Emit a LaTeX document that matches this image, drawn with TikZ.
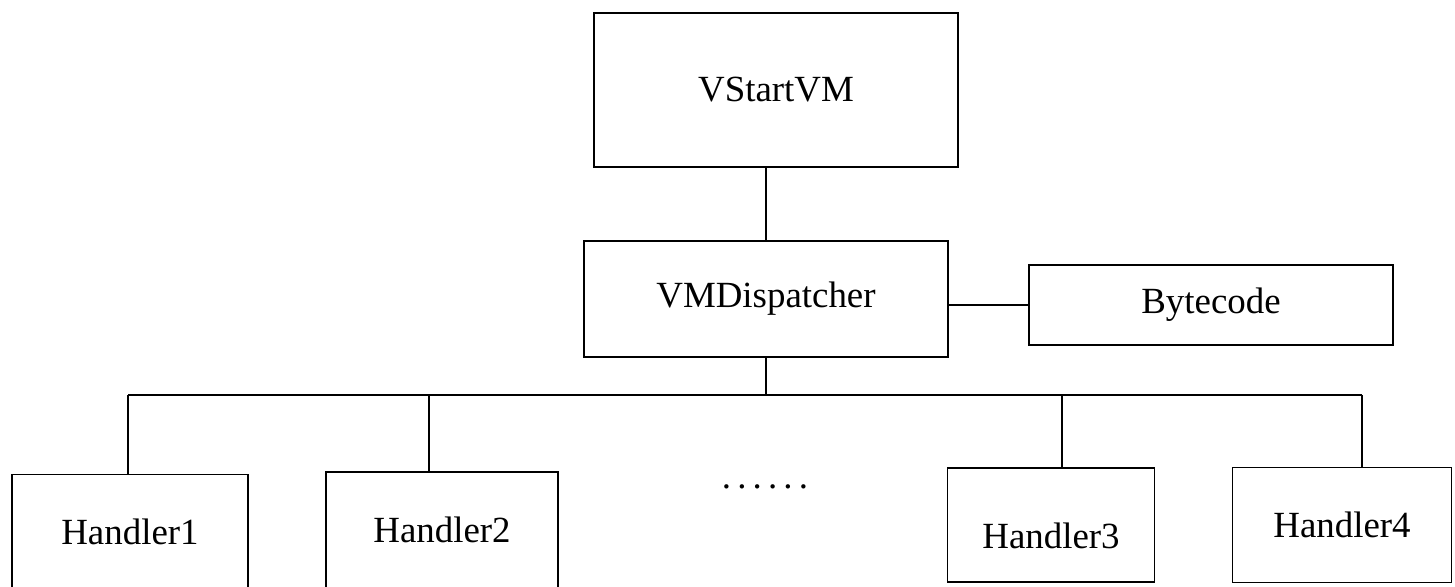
\documentclass[tikz,border=0pt]{standalone}
\usepackage{fontspec}
\setmainfont{Liberation Serif}

\begin{document}
\begin{tikzpicture}[x=0.02cm, y=-0.02cm, line width=1pt,
    blk/.style={draw, inner sep=0pt, font=\fontsize{21}{25}\selectfont}]
  \clip (0,0) rectangle (1455,587);

  % oben: Start und Dispatcher
  \node[blk, minimum width=7.28cm, minimum height=3.08cm] (vm) at (776,90) {VStartVM};
  \node[blk, minimum width=7.28cm, minimum height=2.32cm] (disp) at (766,299) {VMDispatcher};
  \node[blk, minimum width=7.28cm, minimum height=1.6cm] (code) at (1211,305) {Bytecode};

  \draw (disp.north) -- (disp.north |- vm.south);
  \draw (disp.east |- code.west) -- (code.west);

  % Handler
  \node[blk, minimum width=4.72cm, minimum height=2.3cm] (h1) at (130,532) {Handler1};
  \node[blk, minimum width=4.64cm, minimum height=2.32cm] (h2) at (442,530) {Handler2};
  \node[blk, minimum width=4.14cm, minimum height=2.28cm] (h3) at (1051,525) {\raisebox{-0.3em}[0.68em][0pt]{Handler3}};
  \node[blk, minimum width=4.38cm, minimum height=2.3cm] (h4) at (1342,525) {Handler4};
  \node[font=\fontsize{21}{25}\selectfont] (dots) at (765,487) {.\,.\,.\,.\,.\,.};

  % Verteiler
  \coordinate (bus) at (766,395);
  \coordinate (bl) at (128,395);
  \coordinate (br) at (1362,395);
  \draw (disp.south) -- (bus);
  \draw (bl) -- (br);
  \foreach \x/\h in {128/h1, 429/h2, 1062/h3, 1362/h4} {
    \coordinate (d\h) at (\x,395);
    \draw (d\h) -- (d\h |- \h.north);
  }
\end{tikzpicture}
\end{document}
